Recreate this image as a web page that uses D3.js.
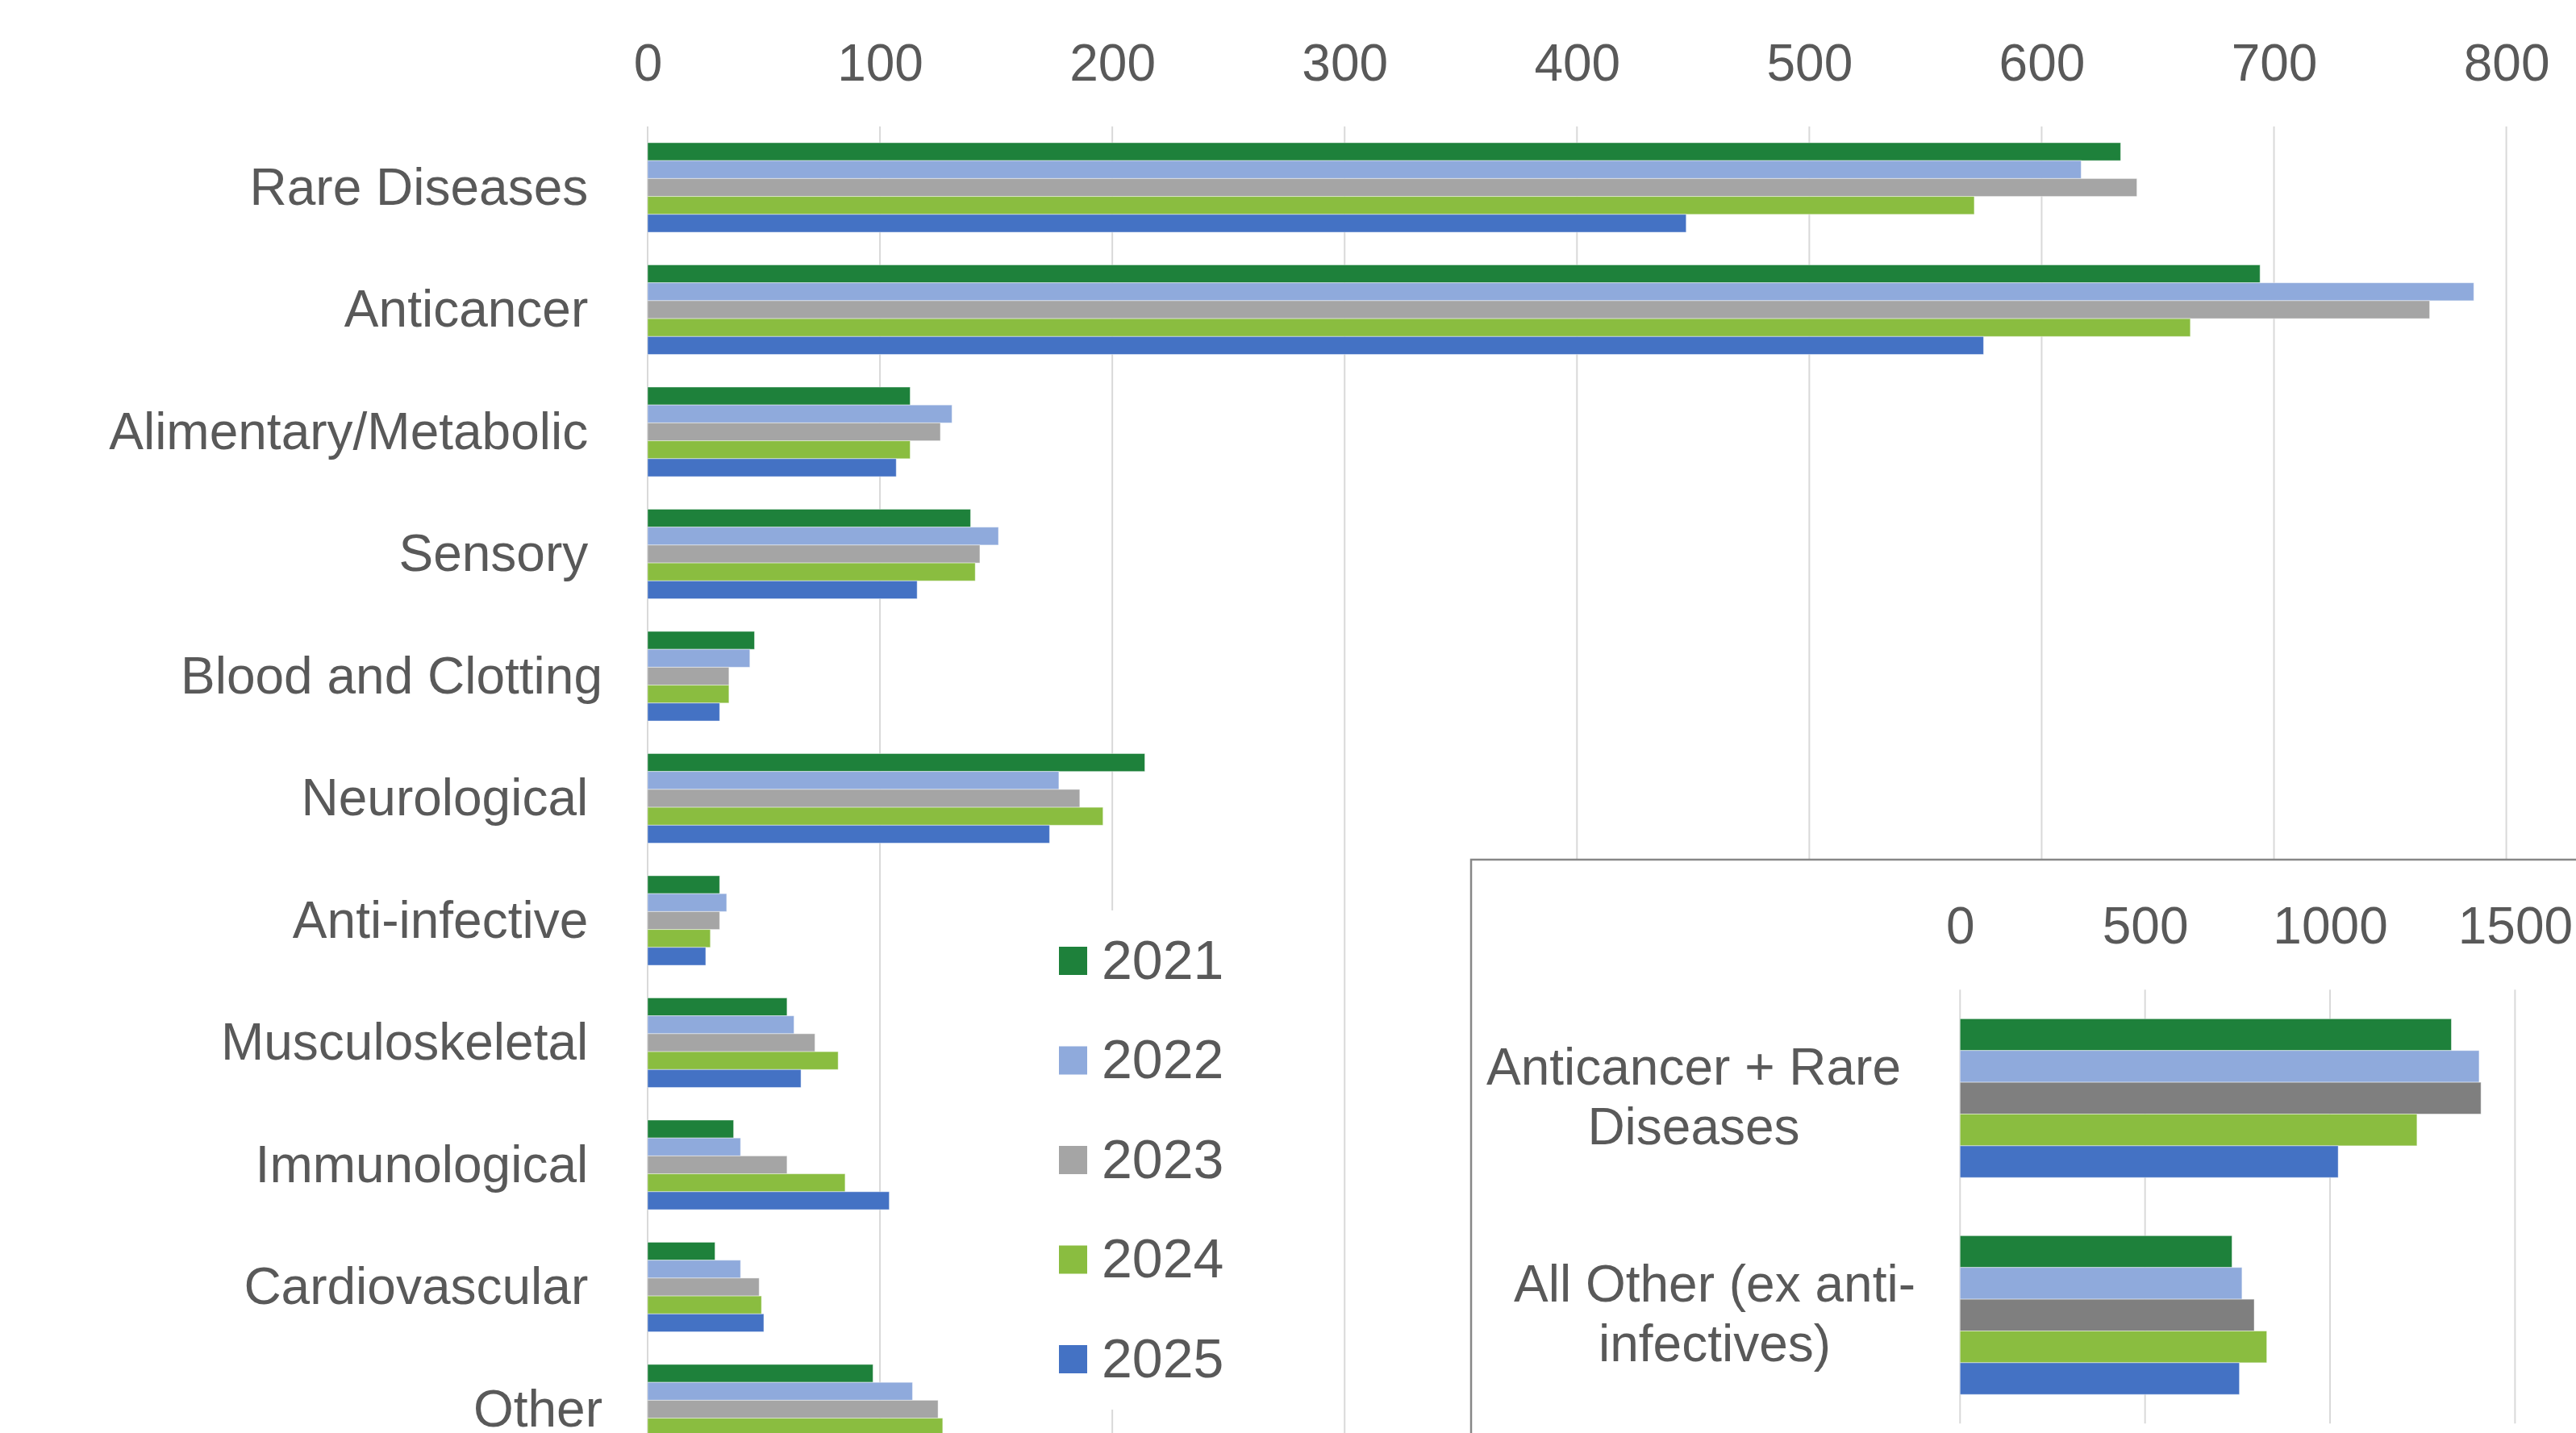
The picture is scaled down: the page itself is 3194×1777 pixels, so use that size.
<!DOCTYPE html>
<html>
<head>
<meta charset="utf-8">
<script src="https://cdn.jsdelivr.net/npm/d3@7"></script>
<style>
  html, body { margin: 0; padding: 0; background: #ffffff; }
  svg { display: block; font-family: "Liberation Sans", Arial, sans-serif; }
  .pre { white-space: pre; }
</style>
</head>
<body>
<script>
// Therapy areas (some labels carry a trailing space, as in the source sheet)
const categories = [
  "Rare Diseases ", "Anticancer ", "Alimentary/Metabolic ", "Sensory ",
  "Blood and Clotting", "Neurological ", "Anti-infective ", "Musculoskeletal ",
  "Immunological ", "Cardiovascular ", "Other"
];
const years = ["2021", "2022", "2023", "2024", "2025"];

// Values per year, one entry per therapy area
const values2021 = [634, 694, 113, 139, 46, 214, 31, 60, 37, 29, 97];
const values2022 = [617, 786, 131, 151, 44, 177, 34, 63, 40, 40, 114];
const values2023 = [641, 767, 126, 143, 35, 186, 31, 72, 60, 48, 125];
const values2024 = [571, 664, 113, 141, 35, 196, 27, 82, 85, 49, 127];
const values2025 = [447, 575, 107, 116, 31, 173, 25, 66, 104, 50, 111];

const mainTicks = [0, 100, 200, 300, 400, 500, 600, 700, 800];

// Summary panel: two aggregate groups
const groupLabels = [
  ["Anticancer + Rare", "Diseases"],
  ["All Other (ex anti-", "infectives)"]
];
const groupKeys = ["Anticancer + Rare Diseases", "All Other (ex anti-infectives)"];
const group2021 = [1328, 735];
const group2022 = [1403, 762];
const group2023 = [1408, 795];
const group2024 = [1235, 829];
const group2025 = [1022, 755];

const insetTicks = [0, 500, 1000, 1500];

const seriesValues = [values2021, values2022, values2023, values2024, values2025];
const groupValues = [group2021, group2022, group2023, group2024, group2025];

const mainColors = ["#1e813b", "#8faadc", "#a5a5a5", "#8abd40", "#4472c4"];
const insetColors = ["#1e813b", "#8faadc", "#7f7f7f", "#8abd40", "#4472c4"];

const W = 3194, H = 1777;
const textColor = "#595959";
const gridColor = "#d9d9d9";
const plain = d3.format("d");

const svg = d3.select("body").append("svg")
  .attr("width", W).attr("height", H)
  .attr("viewBox", `0 0 ${W} ${H}`);

svg.append("rect").attr("width", W).attr("height", H).attr("fill", "#ffffff");

// ---------- main chart ----------
const mainTop = 156.75, mainStep = 151.5;
const x = d3.scaleLinear().domain([0, 800]).range([803, 3107.6]);
const y = d3.scaleBand().domain(categories)
  .range([mainTop, mainTop + categories.length * mainStep])
  .paddingInner(0.267).paddingOuter(0.1335);
const ySub = d3.scaleBand().domain(years).range([0, y.bandwidth()]);

const main = svg.append("g");

main.append("g").selectAll("line").data(mainTicks).join("line")
  .attr("x1", d => x(d)).attr("x2", d => x(d))
  .attr("y1", y.range()[0]).attr("y2", y.range()[1])
  .attr("stroke", gridColor).attr("stroke-width", 2);

const rows = categories.map((c, i) => ({
  cat: c,
  bars: years.map((yr, j) => ({ year: yr, value: seriesValues[j][i], color: mainColors[j] }))
}));

const rowG = main.append("g").selectAll("g").data(rows).join("g")
  .attr("transform", d => `translate(0,${y(d.cat)})`);

rowG.selectAll("rect").data(d => d.bars).join("rect")
  .attr("x", x(0))
  .attr("y", d => ySub(d.year))
  .attr("width", d => x(d.value) - x(0))
  .attr("height", ySub.bandwidth())
  .attr("fill", d => d.color)
  .attr("stroke", "rgba(255,255,255,0.45)")
  .attr("stroke-width", 1);

// category labels
main.append("g").selectAll("text").data(categories).join("text")
  .attr("class", "pre")
  .attr("xml:space", "preserve")
  .attr("x", 747)
  .attr("y", d => y(d) + y.bandwidth() / 2 + 21)
  .attr("text-anchor", "end")
  .attr("font-size", 64)
  .attr("fill", textColor)
  .text(d => d);

// top value axis
const axTop = main.append("g").attr("transform", "translate(0,99.5)")
  .call(d3.axisTop(x).tickValues(mainTicks).tickFormat(plain).tickSize(0).tickPadding(0));
axTop.select(".domain").remove();
axTop.selectAll("text")
  .attr("y", 0).attr("dy", 0)
  .attr("font-size", 64)
  .attr("font-family", "Liberation Sans, Arial, sans-serif")
  .attr("fill", textColor);

// ---------- legend ----------
const legend = svg.append("g");
legend.append("rect")
  .attr("x", 1290).attr("y", 1129).attr("width", 300).attr("height", 619)
  .attr("fill", "#ffffff");
const legItem = legend.selectAll("g.item").data(years).join("g")
  .attr("class", "item")
  .attr("transform", (d, i) => `translate(1313,${1174 + i * 123.5})`);
legItem.append("rect")
  .attr("width", 35).attr("height", 35)
  .attr("fill", (d, i) => mainColors[i]);
legItem.append("text")
  .attr("x", 53).attr("y", 39.6)
  .attr("font-size", 68)
  .attr("fill", textColor)
  .text(d => d);

// ---------- summary panel ----------
const inset = svg.append("g");
inset.append("rect")
  .attr("x", 1824).attr("y", 1066).attr("width", 2000).attr("height", 1000)
  .attr("fill", "#ffffff")
  .attr("stroke", "#878787").attr("stroke-width", 2.5);

const xi = d3.scaleLinear().domain([0, 1500]).range([2430.3, 3118.4]);
const yi = d3.scaleBand().domain(groupKeys).range([1227.3, 1765.3])
  .paddingInner(0.268).paddingOuter(0.134);
const yiSub = d3.scaleBand().domain(years).range([0, yi.bandwidth()]);

inset.append("g").selectAll("line").data(insetTicks).join("line")
  .attr("x1", d => xi(d)).attr("x2", d => xi(d))
  .attr("y1", yi.range()[0]).attr("y2", yi.range()[1])
  .attr("stroke", gridColor).attr("stroke-width", 2);

const gRows = groupKeys.map((k, i) => ({
  key: k,
  bars: years.map((yr, j) => ({ year: yr, value: groupValues[j][i], color: insetColors[j] }))
}));

inset.append("g").selectAll("g").data(gRows).join("g")
  .attr("transform", d => `translate(0,${yi(d.key)})`)
  .selectAll("rect").data(d => d.bars).join("rect")
  .attr("x", xi(0))
  .attr("y", d => yiSub(d.year))
  .attr("width", d => xi(d.value) - xi(0))
  .attr("height", yiSub.bandwidth())
  .attr("fill", d => d.color)
  .attr("stroke", "rgba(255,255,255,0.45)")
  .attr("stroke-width", 1);

// two-line group labels, centred
const labelCentres = [2100, 2126];
const lineGap = 74.2;
groupKeys.forEach((k, i) => {
  const cy = yi(k) + yi.bandwidth() / 2 + 20;
  const t = inset.append("text")
    .attr("text-anchor", "middle")
    .attr("font-size", 64)
    .attr("fill", textColor);
  groupLabels[i].forEach((line, li) => {
    t.append("tspan")
      .attr("x", labelCentres[i])
      .attr("y", cy + (li - (groupLabels[i].length - 1) / 2) * lineGap)
      .text(line);
  });
});

const axInset = inset.append("g").attr("transform", "translate(0,1170)")
  .call(d3.axisTop(xi).tickValues(insetTicks).tickFormat(plain).tickSize(0).tickPadding(0));
axInset.select(".domain").remove();
axInset.selectAll("text")
  .attr("y", 0).attr("dy", 0)
  .attr("font-size", 64)
  .attr("font-family", "Liberation Sans, Arial, sans-serif")
  .attr("fill", textColor);
</script>
</body>
</html>
